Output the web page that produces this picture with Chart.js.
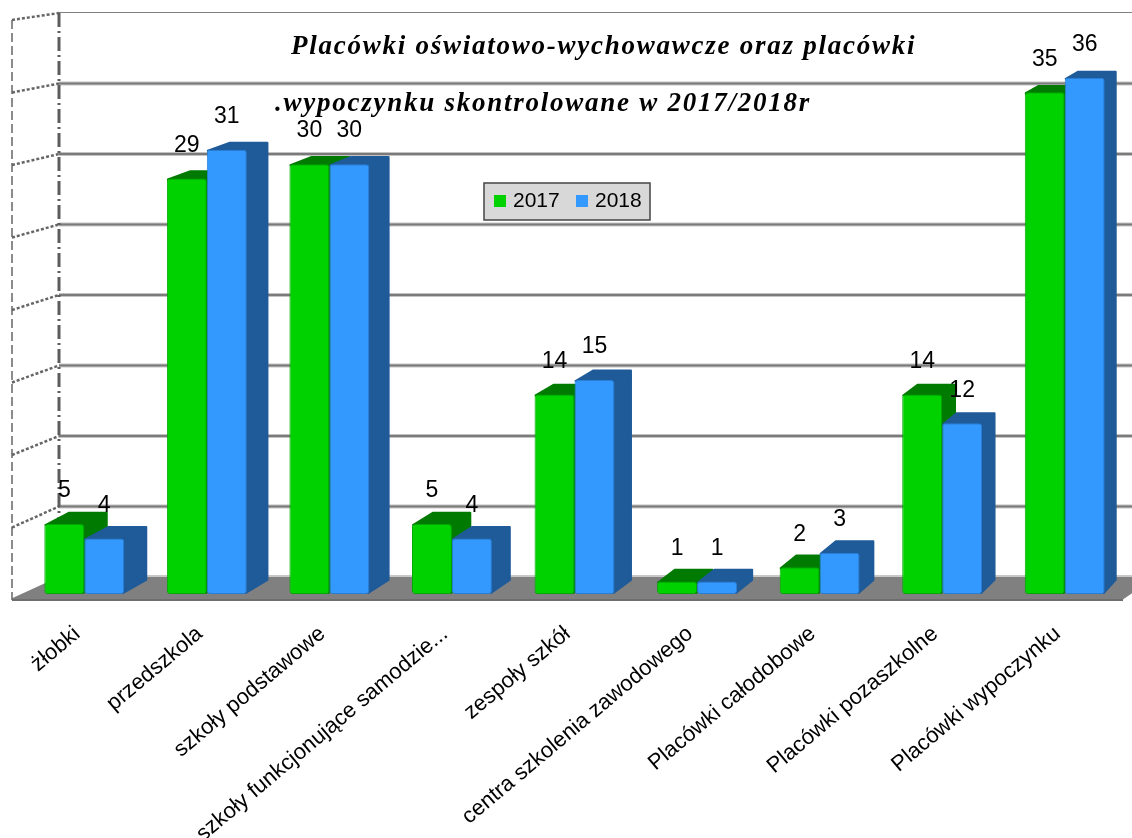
<!DOCTYPE html>
<html>
<head>
<meta charset="utf-8">
<title>Placówki</title>
<script src="https://cdn.jsdelivr.net/npm/chart.js@4"></script>
<style>
  html, body { margin: 0; padding: 0; background: #fff; }
  #wrap { position: relative; width: 1132px; height: 838px; }
  #myChart { filter: blur(0.4px); }
</style>
</head>
<body>
<div id="wrap"><canvas id="myChart" width="1132" height="838"></canvas></div>
<script>
const categories = ['żłobki', 'przedszkola', 'szkoły podstawowe', 'szkoły funkcjonujące samodzie...', 'zespoły szkół',
  'centra szkolenia zawodowego', 'Placówki całodobowe', 'Placówki pozaszkolne', 'Placówki wypoczynku'];
const values2017 = [5, 29, 30, 5, 14, 1, 2, 14, 35];
const values2018 = [4, 31, 30, 4, 15, 1, 3, 12, 36];
const seriesNames = ['2017', '2018'];
const gridTicks = [0, 5, 10, 15, 20, 25, 30, 35, 40];
const titleLines = ['Placówki oświatowo-wychowawcze oraz placówki', '.wypoczynku skontrolowane w 2017/2018r'];

const green = '#00d200', greenDark = '#007a00';
const blue = '#3399ff', blueDark = '#1f5a99';

// the 3d depth shrinks to the right and towards the top
const depthX = x => 24.4 - 0.0112 * x;
const depthY = y => 6.2 + 0.0116 * y;

function poly(c, pts, fill) {
  c.beginPath();
  pts.forEach((p, i) => i ? c.lineTo(p[0], p[1]) : c.moveTo(p[0], p[1]));
  c.closePath();
  c.fillStyle = fill;
  c.strokeStyle = fill;
  c.lineWidth = 2;
  c.lineJoin = 'round';
  c.fill();
  c.stroke();
}

// walls, floor and grid, taken from the hidden back axis
const wallPlugin = {
  id: 'walls',
  beforeDatasetsDraw(chart) {
    const c = chart.ctx, s = chart.scales.yBack;
    const backL = 59, frontL = 12, right = 1132;
    const floorBack = s.getPixelForValue(0), frontBase = 600;
    const front = y => frontBase - (floorBack - y) * 580 / 564;
    c.save();
    gridTicks.forEach((t, i) => {
      const y = s.getPixelForValue(t);
      if (i === gridTicks.length - 1) {
        c.fillStyle = '#808080'; c.fillRect(backL, y - 1, right - backL, 1);
      } else if (i > 0) {
        c.fillStyle = '#c4c4c4'; c.fillRect(backL, y - 2, right - backL, 4);
        c.fillStyle = '#7a7a7a'; c.fillRect(backL, y - 1, right - backL, 2);
      }
      if (i > 0) {
        c.strokeStyle = '#666';
        c.lineWidth = 2.5;
        c.setLineDash([3, 2]);
        c.beginPath();
        c.moveTo(frontL, front(y));
        c.lineTo(backL, y);
        c.stroke();
      }
    });
    c.setLineDash([]);
    poly(c, [[frontL + 1, frontBase - 1], [1122, frontBase - 1], [right, 592], [right, floorBack + 1], [backL, floorBack + 1]], '#808080');
    c.fillStyle = '#c8c8c8';
    c.fillRect(backL, floorBack - 2, right - backL, 2);
    c.fillStyle = '#6e6e6e';
    c.fillRect(frontL, frontBase - 1, 1111, 2);

    const top = s.getPixelForValue(40);
    c.setLineDash([9, 4]);
    c.lineWidth = 1.5;
    c.strokeStyle = '#666';
    c.beginPath();
    c.moveTo(frontL, front(top));
    c.lineTo(frontL, frontBase);
    c.stroke();
    c.setLineDash([14, 4, 2, 4]);
    c.lineWidth = 3;
    c.strokeStyle = '#5c5c5c';
    c.beginPath();
    c.moveTo(backL, top);
    c.lineTo(backL, floorBack);
    c.stroke();
    c.setLineDash([]);

    // bar tops and sides go behind the library's own bars
    const sides = [greenDark, blueDark];
    [0, 1].forEach(d => {
      chart.getDatasetMeta(d).data.forEach(b => {
        const l = b.x - b.width / 2 + 1, r = b.x + b.width / 2 - 1, t = b.y + 1, base = b.base - 1;
        poly(c, [[l, t], [l + depthX(l), t - depthY(t)], [r + depthX(r), t - depthY(t)],
          [r + depthX(r), base - depthY(base)], [r, base], [r, t]], sides[d]);
      });
    });
    c.restore();
  }
};

// value labels, legend and title
const textPlugin = {
  id: 'texts',
  afterDraw(chart) {
    const c = chart.ctx;
    c.save();
    c.fillStyle = '#000';
    c.textAlign = 'center';
    c.textBaseline = 'middle';
    c.font = '23px "Liberation Sans"';
    [0, 1].forEach(d => {
      const meta = chart.getDatasetMeta(d);
      meta.data.forEach((b, i) => {
        c.fillText(String(chart.data.datasets[d].data[i]), b.x, b.y - 33);
      });
    });

    c.font = 'italic bold 27px "Liberation Serif"';
    c.letterSpacing = '1.75px';
    c.textAlign = 'left';
    c.fillText(titleLines[0], 291, 47);
    c.fillText(titleLines[1], 275, 104);
    c.letterSpacing = '0px';

    c.fillStyle = '#d8d8d8';
    c.fillRect(484, 183, 166, 37);
    c.strokeStyle = '#444';
    c.lineWidth = 1.5;
    c.strokeRect(484, 183, 166, 37);
    c.font = '21px "Liberation Sans"';
    c.textBaseline = 'middle';
    [[494, 513, green], [576, 595, blue]].forEach((l, i) => {
      c.fillStyle = l[2];
      c.fillRect(l[0], 195, 12, 12);
      c.fillStyle = '#000';
      c.fillText(seriesNames[i], l[1], 201);
    });
    c.restore();
  }
};

new Chart(document.getElementById('myChart'), {
  type: 'bar',
  data: {
    labels: categories,
    datasets: [
      { label: seriesNames[0], data: values2017, base: 0.14, backgroundColor: green, borderColor: '#00a800', borderWidth: 1, borderRadius: 3, borderSkipped: false },
      { label: seriesNames[1], data: values2018, base: 0.14, backgroundColor: blue, borderColor: '#2a7fd4', borderWidth: 1, borderRadius: 3, borderSkipped: false }
    ]
  },
  options: {
    responsive: false,
    animation: false,
    layout: { padding: { left: 23, right: 6, top: 13, bottom: 0 } },
    datasets: { bar: { barPercentage: 1, categoryPercentage: 0.652 } },
    plugins: { legend: { display: false }, title: { display: false }, tooltip: { enabled: false } },
    scales: {
      x: {
        grid: { display: false },
        border: { display: false },
        afterFit(scale) { scale.height = 242; },
        ticks: { color: '#000', font: { family: 'Liberation Sans', size: 22 }, minRotation: 40, maxRotation: 40, autoSkip: false, padding: 17, labelOffset: -7 }
      },
      y: { display: false, min: 0, max: 40.5 },
      yBack: { display: false, min: -1.35, max: 40 }
    }
  },
  plugins: [wallPlugin, textPlugin]
});
</script>
</body>
</html>
